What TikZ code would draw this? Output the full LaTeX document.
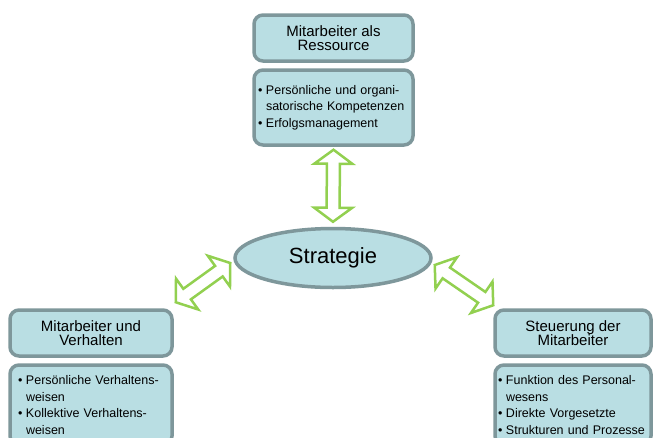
\documentclass[tikz,border=0pt]{standalone}
\usepackage{fontspec}
\setmainfont{Liberation Sans}
\usetikzlibrary{calc,shapes.geometric}

\definecolor{boxfill}{RGB}{185,222,227}
\definecolor{boxline}{RGB}{126,151,155}
\definecolor{linkgreen}{RGB}{146,208,80}

% bullet list lines with a hanging indent
\newlength\bulletw
\setlength\bulletw{8pt}
\newcommand\bitem[1]{\mbox{\makebox[\bulletw][l]{•}#1}}
\newcommand\bcont[1]{\mbox{\hspace*{\bulletw}#1}}

% hollow two-headed block arrow between two tip points
\newcommand\twoway[2]{%
  \draw[flowarrow] (#1)
    -- ($(#1)!14pt!(#2)!19pt!90:(#2)$)
    -- ($(#1)!14pt!(#2)!6.5pt!90:(#2)$)
    -- ($(#2)!14pt!(#1)!6.5pt!-90:(#1)$)
    -- ($(#2)!14pt!(#1)!19pt!-90:(#1)$)
    -- (#2)
    -- ($(#2)!14pt!(#1)!19pt!90:(#1)$)
    -- ($(#2)!14pt!(#1)!6.5pt!90:(#1)$)
    -- ($(#1)!14pt!(#2)!6.5pt!-90:(#2)$)
    -- ($(#1)!14pt!(#2)!19pt!-90:(#2)$)
    -- cycle;}

\begin{document}
\begin{tikzpicture}[x=1pt,y=-1pt,
  box/.style={draw=boxline, fill=boxfill, line width=3.5pt,
    rounded corners=9pt, inner sep=0pt},
  titlebox/.style={box, font=\fontsize{15}{14.5}\selectfont, align=center},
  bodybox/.style={box, font=\fontsize{12.5}{16.5}\selectfont, align=left},
  flowarrow/.style={draw=linkgreen, fill=white, line width=2.5pt, line join=miter}]

\clip (0,0) rectangle (653,437);
\fill[white] (0,0) rectangle (653,437);

% centre: strategy
\node[box, ellipse, rounded corners=0pt, minimum width=196pt, minimum height=59pt,
  font=\fontsize{22}{24}\selectfont] (strategy) at (333,258) {Strategie};

% top: employees as a resource
\node[titlebox, minimum width=159pt, minimum height=46pt] (res-title) at (333.5,38)
  {Mitarbeiter als\\Ressource};
\node[bodybox, minimum width=159pt, minimum height=75pt, text width=151pt] (res-body)
  at (333.5,107.5)
  {\bitem{Persönliche und organi-}\\
   \bcont{satorische Kompetenzen}\\
   \bitem{Erfolgsmanagement}};

% left: employees and behaviour
\node[titlebox, minimum width=162pt, minimum height=46pt] (verh-title) at (91,333)
  {Mitarbeiter und\\Verhalten};
\node[bodybox, minimum width=162pt, minimum height=80pt, text width=146pt] (verh-body)
  at (91,405)
  {\bitem{Persönliche Verhaltens-}\\
   \bcont{weisen}\\
   \bitem{Kollektive Verhaltens-}\\
   \bcont{weisen}};

% right: steering the employees
\node[titlebox, minimum width=156pt, minimum height=46pt] (steu-title) at (573,333)
  {Steuerung der\\Mitarbeiter};
\node[bodybox, minimum width=156pt, minimum height=80pt, text width=150pt] (steu-body)
  at (573,405)
  {\bitem{Funktion des Personal-}\\
   \bcont{wesens}\\
   \bitem{Direkte Vorgesetzte}\\
   \bitem{Strukturen und Prozesse}};

% arrow end points
\coordinate (v-top) at ($(res-body.south)+(0,3)$);
\coordinate (v-bot) at ($(strategy.north)+(0,-5)$);
\coordinate (l-top) at ($(strategy.west)+(-3,5)$);
\coordinate (l-bot) at ($(verh-title.north east)+(2,-6)$);
\coordinate (r-top) at ($(strategy.east)+(2,7)$);
\coordinate (r-bot) at ($(steu-title.north west)+(0,-3)$);

\twoway{v-top}{v-bot}
\twoway{l-bot}{l-top}
\twoway{r-top}{r-bot}

\end{tikzpicture}
\end{document}
